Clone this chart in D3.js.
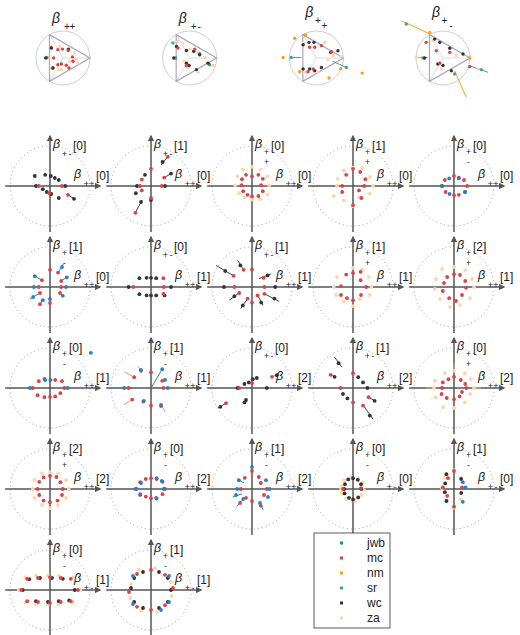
<!DOCTYPE html>
<html>
<head>
<meta charset="utf-8">
<script src="https://cdn.jsdelivr.net/npm/d3@7"></script>
<style>
  body { margin: 0; background: #fff; }
  text { font-family: 'Liberation Sans', Arial, sans-serif; fill: #222; }
</style>
</head>
<body>
<div id="chart"></div>
<script>
// series and colours
const seriesNames = ['jwb', 'mc', 'nm', 'sr', 'wc', 'za']
const seriesColors = ['#2b7fc0', '#d9434a', '#f5a020', '#3aab84', '#333333', '#fdd6ab']
const drawOrder = ['za', 'nm', 'sr', 'wc', 'mc', 'jwb']

// axis labels of the small panels ('/' means the subscript is stacked)
const vSubs = ['+-', '+-', '+/+', '+/+', '+/-',
  '+/-', '+-', '+-', '+/+', '+/+',
  '+/-', '+/-', '+-', '+-', '+/+',
  '+/+', '+/-', '+/-', '+/-', '+/-',
  '+/-', '+/-']
const vIdx = [0, 1, 0, 1, 0, 1, 0, 1, 1, 2, 0, 1, 0, 1, 0, 2, 0, 1, 0, 1, 0, 1]
const hSubs = ['++', '++', '++', '++', '++', '++', '++', '++', '++', '++',
  '++', '++', '++', '++', '++', '++', '++', '++', '+-', '+-', '+-', '+-']
const hIdx = [0, 0, 0, 0, 0, 0, 1, 1, 1, 1, 1, 1, 2, 2, 2, 2, 2, 2, 0, 0, 1, 1]

// titles of the triangle plots
const triSubs = ['++', '+-', '+/+', '+/-']

// points of the triangle plots
const tri1 = {
  za: [[-0.41, 0.37], [-0.12, 0.43], [0.22, 0.31], [0.43, 0.19], [0.49, -0.04], [0.56, -0.19], [-0.37, -0.33], [-0.15, -0.43], [-0.06, -0.43], [-0.56, 0], [0.25, -0.12]],
  nm: [[-0.45, 0.4], [-0.4, -0.38]],
  sr: [[-0.6, 0.02]],
  wc: [[-0.64, 0], [-0.43, 0.37], [-0.37, -0.37], [0.2, 0.33]],
  mc: [[-0.19, 0.31], [-0.02, 0.33], [0.19, 0.28], [0.35, 0.04], [0.37, -0.12], [-0.19, -0.25], [-0.06, -0.22], [0.12, -0.27], [0.22, -0.37], [-0.35, 0]]
}
const tri2 = {
  za: [[-0.43, 0.62], [-0.25, 0.56], [0, 0.33], [0.31, 0.19], [0.86, -0.28], [-0.19, -0.12], [-0.06, -0.37], [0.31, -0.53], [0.55, 0.02]],
  sr: [[-0.62, 0.56], [0.74, -0.25], [0.37, 0.16], [-0.52, 0]],
  wc: [[-0.49, 0.43], [-0.12, 0.28], [0.15, 0.25], [0.37, 0.12], [0.68, -0.19], [-0.12, -0.19], [-0.02, -0.28], [0.25, -0.43], [-0.59, 0]],
  mc: [[-0.43, 0.37], [0.19, 0.33], [-0.12, -0.28]]
}
const tri3 = {
  za: [[-0.47, 0.56], [0.31, 0.58], [0.43, -0.07], [0.62, 0.09], [-0.43, -0.53], [0.06, -0.53], [0.93, 0.06]],
  nm: [[-1.23, 0.02], [-0.8, 0.73], [-0.62, -0.51], [0.47, -0.74], [1.7, -0.56], [-0.4, 0.85], [0.9, -0.4]],
  sr: [[-0.93, 0.02], [1.11, -0.35]],
  wc: [[-0.49, 0.49], [-0.27, 0.58], [-0.09, 0.58], [0.53, 0.21], [0.8, 0.27], [-0.49, -0.41], [-0.25, -0.41], [-0.06, -0.47], [0.19, -0.35]],
  mc: [[-0.25, 0.4], [-0.06, 0.4], [0.19, 0.46], [0.56, 0.23], [-0.12, -0.41], [-0.31, -0.51]],
  seg: [['sr', -0.93, 0.02, -0.55, 0.02], ['sr', 0.6, -0.12, 1.11, -0.35]]
}
const tri4 = {
  za: [[-0.37, 0.64], [0.49, 0.09], [-0.06, -0.41], [1.3, -0.41], [-0.99, 0.02]],
  nm: [[-0.49, 0.95], [0.99, 0]],
  sr: [[-1.36, 1.26], [1.42, -0.43], [0.43, -0.59], [-0.74, 0]],
  wc: [[-0.31, 0.7], [-0.12, 0.58], [0.25, 0.36], [0.74, 0.15], [0.31, -0.47], [-0.19, -0.22], [0, -0.28], [-0.68, 0]],
  mc: [[-0.62, 0.58], [-0.25, 0.27], [0.25, 0.21], [-0.12, -0.19], [0.99, -0.32]],
  seg: [['nm', -1.54, 1.38, -0.49, 0.89], ['nm', 0.43, -0.47, 0.86, -1.46], ['sr', 0.96, -0.28, 1.67, -0.53], ['nm', -0.99, 0.02, -0.56, 0.02]]
}

// points of the small panels, row by row
const r1c0 = {
  wc: [[-0.38, 0.25], [-0.12, 0.28], [0.02, 0.25], [0.12, 0.2], [0.22, 0.15], [-0.35, 0], [0.38, 0], [-0.18, -0.08], [-0.08, -0.15], [0.03, -0.2], [0.22, -0.3], [0.6, -0.32]],
  mc: [[-0.28, 0], [0.3, 0], [-0.02, -0.18], [0.45, -0.22]],
  seg: [['wc', 0.45, -0.22, 0.62, -0.33]]
}
const r1c1 = {
  wc: [[-0.15, 0.28], [0.29, 0.6], [0.5, 0.31], [-0.35, 0], [0.35, 0], [-0.38, -0.18], [0, -0.35], [-0.25, -0.4]],
  mc: [[0, 0.43], [-0.23, 0.16], [0.33, 0.21], [0.42, 0.73], [-0.28, 0], [0.27, 0], [-0.23, -0.11], [0, -0.3], [-0.39, -0.67]],
  seg: [['wc', 0.25, 0.52, 0.44, 0.76], ['wc', 0.33, 0.21, 0.52, 0.32], ['wc', -0.22, -0.35, -0.4, -0.68]]
}
const r1c2 = {
  za: [[-0.23, 0.41], [0, 0.48], [0.21, 0.41], [-0.36, 0.24], [0.39, 0.24], [-0.42, 0.02], [0.43, 0.02], [-0.32, -0.18], [0.39, -0.21], [-0.19, -0.28], [0.2, -0.33], [0, -0.34]],
  mc: [[-0.15, 0.28], [0.16, 0.28], [-0.25, 0.17], [0.27, 0.18], [-0.26, 0.02], [0, 0.24], [0.27, -0.13], [-0.22, -0.13], [-0.11, -0.22], [0, -0.26], [0.16, -0.25], [0.23, 0.02]]
}
const r1c3 = {
  za: [[0, 0.46], [0.23, 0.45], [-0.23, 0.39], [-0.38, 0.18], [0.42, 0.22], [-0.4, 0], [0.5, 0], [-0.48, -0.25], [0.42, -0.19], [-0.23, -0.36], [0.15, -0.28], [0, -0.5]],
  mc: [[0, 0.43], [0.18, 0.35], [-0.17, 0.28], [0.31, 0.17], [-0.27, 0], [0.28, 0], [-0.27, -0.15], [0.15, -0.11], [0.21, -0.3], [0, -0.48]]
}
const r1c4 = {
  mc: [[-0.23, 0.15], [0, 0.25], [0.12, 0.21], [0.25, 0.15], [0.33, 0], [0.27, -0.15], [0.12, -0.22], [0, -0.23], [-0.21, -0.15], [-0.29, 0]],
  jwb: [[-0.12, 0.19], [0.12, 0.19], [-0.31, 0], [0.28, -0.15], [-0.11, -0.2]]
}
const r2c0 = {
  mc: [[0, 0.43], [0.2, 0.36], [-0.2, 0.17], [0.28, 0.15], [-0.28, 0], [0.28, 0], [-0.25, -0.15], [0.25, -0.15], [-0.25, -0.43], [0, -0.4]],
  jwb: [[0.3, 0.5], [-0.38, 0.27], [0.42, 0.24], [-0.4, 0], [0.4, 0], [-0.42, -0.25], [0.32, -0.22], [-0.18, -0.33], [0, -0.3]],
  seg: [['jwb', 0.2, 0.36, 0.34, 0.58], ['jwb', -0.2, 0.17, -0.42, 0.29], ['jwb', 0.28, 0.15, 0.44, 0.26], ['jwb', -0.25, -0.15, -0.5, -0.3], ['jwb', 0.25, -0.15, 0.34, -0.24], ['jwb', -0.25, -0.43, -0.16, -0.3]]
}
const r2c1 = {
  wc: [[-0.29, 0.22], [-0.11, 0.23], [0, 0.23], [0.13, 0.22], [-0.56, 0], [0.5, 0], [-0.29, -0.18], [-0.11, -0.21], [0, -0.21], [0.13, -0.21], [0.34, -0.21]],
  mc: [[0.31, 0.22], [-0.44, 0], [0.32, 0], [0.31, -0.17]]
}
const r2c2 = {
  mc: [[-0.46, 0.28], [-0.21, 0.43], [0, 0.44], [0.29, 0.23], [0.31, 0], [-0.44, 0], [-0.32, -0.15], [-0.11, -0.29], [0, -0.39], [0.31, -0.17], [0.14, -0.21]],
  wc: [[-0.67, 0.4], [-0.29, 0.54], [0.39, 0.29], [0.58, 0], [-0.7, 0], [-0.44, -0.23], [-0.23, -0.46], [0.56, -0.29], [0.23, -0.39]],
  seg: [['wc', -0.46, 0.28, -0.9, 0.54], ['wc', -0.21, 0.43, -0.36, 0.67], ['wc', 0.18, 0.21, 0.48, 0.33], ['wc', -0.32, -0.15, -0.57, -0.33], ['wc', -0.11, -0.29, -0.28, -0.54], ['wc', 0.31, -0.17, 0.68, -0.36], ['wc', 0.14, -0.21, 0.28, -0.46]]
}
const r2c3 = {
  za: [[0, 0.48], [0.23, 0.44], [-0.4, 0.25], [0.39, 0.25], [-0.48, 0], [0.46, 0], [-0.42, -0.2], [0.42, -0.2], [-0.23, -0.36], [0.17, -0.3], [0, -0.48]],
  mc: [[0, 0.35], [0.19, 0.38], [-0.17, 0.31], [0.19, 0.17], [-0.3, 0.02], [0.33, 0], [-0.3, -0.2], [0.2, -0.2], [0, -0.33], [-0.15, -0.28]]
}
const r2c4 = {
  za: [[0, 0.5], [0.28, 0.42], [-0.3, 0.45], [0.45, 0.2], [-0.45, 0.2], [0.5, 0], [-0.48, -0.05], [0.4, -0.28], [-0.35, -0.3], [0.15, -0.45], [-0.1, -0.5]],
  mc: [[0, 0.32], [0.15, 0.3], [-0.17, 0.25], [0.28, 0.15], [-0.25, 0.1], [0.3, -0.02], [-0.28, -0.1], [0.2, -0.2], [-0.12, -0.28], [0.05, -0.35]]
}
const r3c0 = {
  mc: [[-0.14, 0.23], [-0.28, 0.17], [0.13, 0.2], [0.3, 0.17], [-0.43, 0], [0.36, 0], [-0.31, -0.18], [-0.14, -0.23], [0, -0.22], [0.13, -0.21], [0.26, -0.13]],
  jwb: [[-0.12, 0.2], [0.01, 0.2], [-0.5, 0], [0.44, 0], [1.02, 0.88]]
}
const r3c1 = {
  mc: [[0, 0.39], [-0.25, 0.43], [-0.42, 0.27], [-0.56, 0], [-0.47, -0.29], [-0.19, -0.34], [0, -0.44], [0.25, -0.42], [0.31, 0], [0.28, 0.18]],
  jwb: [[-0.67, 0], [0.42, 0], [0.35, 0.2], [-0.18, -0.32], [0.25, -0.45], [-0.25, 0.45], [0.28, 0.47]],
  seg: [['jwb', 0, 0, 0.28, 0.47], ['mc', -0.42, 0.27, -0.65, 0.4], ['mc', -0.56, 0, -0.72, 0], ['mc', -0.47, -0.29, -0.68, -0.42], ['mc', 0.25, -0.42, 0.36, -0.6], ['mc', -0.25, 0.43, -0.33, 0.55], ['mc', 0, -0.44, 0, -0.6]]
}
const r3c2 = {
  wc: [[0.12, 0.25], [0.02, 0.22], [-0.08, 0.14], [-0.19, 0.1], [-0.36, 0], [0.37, 0], [-0.15, -0.3], [-0.19, -0.36], [-0.79, -0.47], [0.62, 0.32]],
  mc: [[-0.32, 0], [-0.65, -0.38], [0.5, 0.28], [0, 0.12]],
  seg: [['wc', -0.62, -0.36, -0.85, -0.5], ['mc', 0.48, 0.27, 0.68, 0.35]]
}
const r3c3 = {
  wc: [[-0.36, 0.62], [-0.46, 0.28], [0.13, 0.27], [0.25, 0.14], [0.36, 0], [-0.25, -0.15], [-0.14, -0.26], [0.42, -0.69], [0.54, -0.32]],
  mc: [[-0.56, 0.33], [0, 0.37], [-0.31, 0], [0, -0.36], [0.25, -0.44], [0.39, -0.23]],
  seg: [['wc', -0.46, 0.77, -0.28, 0.52], ['wc', -0.56, 0.33, -0.46, 0.28], ['wc', 0.25, -0.42, 0.5, -0.78], ['wc', 0.39, -0.23, 0.58, -0.34]]
}
const r3c4 = {
  za: [[0, 0.43], [0.27, 0.37], [-0.23, 0.37], [-0.48, 0.18], [0.42, 0.22], [-0.5, 0], [0.5, 0], [-0.46, -0.23], [-0.27, -0.48], [0.27, -0.36], [0, -0.5], [0.4, -0.15]],
  mc: [[0, 0.28], [0.17, 0.2], [-0.14, 0.22], [-0.28, 0.14], [0.28, 0.1], [-0.31, -0.15], [-0.18, -0.25], [0, -0.28], [0.14, -0.21], [0.31, 0], [-0.3, 0], [0.2, -0.1]],
  seg: [['za', 0, 0.45, 0, 0.62], ['za', -0.5, 0, -0.7, 0], ['za', 0.5, 0, 0.68, 0], ['za', -0.27, -0.48, -0.36, -0.64], ['za', 0.27, 0.37, 0.36, 0.5], ['za', -0.46, -0.23, -0.6, -0.3]]
}
const r4c0 = {
  za: [[0, 0.42], [-0.2, 0.39], [0.2, 0.39], [-0.39, 0.22], [0.4, 0.22], [-0.43, 0], [0.47, 0], [-0.39, -0.22], [0.4, -0.22], [-0.2, -0.4], [0.2, -0.4], [0, -0.48]],
  mc: [[0, 0.33], [-0.16, 0.29], [-0.27, 0.18], [0.16, 0.3], [0.26, 0.17], [-0.31, 0], [0.32, 0], [-0.27, -0.15], [-0.16, -0.29], [0, -0.33], [0.19, -0.29], [0.3, -0.15]]
}
const r4c1 = {
  mc: [[-0.27, 0.17], [-0.13, 0.25], [0, 0.27], [0.14, 0.25], [0.29, 0.18], [-0.36, 0], [0.35, 0], [-0.27, -0.13], [-0.13, -0.19], [0, -0.23], [0.13, -0.22], [0.29, -0.13]],
  jwb: [[-0.25, 0.15], [0.14, 0.27], [-0.39, 0], [0.32, 0], [-0.27, -0.15], [0.14, -0.24], [0.27, 0.2]]
}
const r4c2 = {
  mc: [[0, 0.45], [-0.18, 0.28], [0.17, 0.3], [-0.28, 0], [0.37, 0], [-0.15, -0.22], [0.3, -0.15], [0.22, 0.15], [-0.3, -0.35], [0.22, -0.42], [0, -0.3]],
  jwb: [[0, 0.55], [-0.33, 0.22], [0.35, 0.22], [-0.37, 0], [0.44, 0], [-0.4, -0.15], [0.2, -0.35], [-0.22, -0.25], [0.4, -0.2]],
  seg: [['jwb', -0.2, 0.15, -0.36, 0.24], ['jwb', -0.25, -0.12, -0.48, -0.2], ['jwb', 0.2, -0.35, 0.28, -0.52], ['jwb', -0.25, -0.28, -0.38, -0.44]]
}
const r4c3 = {
  za: [[-0.22, 0.22], [-0.05, 0.3], [0.13, 0.27], [0.25, 0.16], [-0.28, 0.08], [0.27, -0.02], [-0.28, -0.11], [0.21, -0.15], [-0.17, -0.25], [0.05, -0.3], [-0.3, 0]],
  wc: [[0, 0.27], [-0.12, 0.24], [-0.2, 0.12], [-0.22, 0], [-0.21, -0.11], [-0.1, -0.22], [0, -0.26], [0.13, -0.21], [0.21, 0], [0.2, 0.12], [0.12, 0.23]],
  mc: [[-0.25, 0], [0.2, 0.02]]
}
const r4c4 = {
  za: [[0, 0.47], [-0.3, 0.02], [0.16, 0.28], [-0.17, -0.29], [0.17, -0.26], [0, -0.47], [-0.22, 0.3]],
  wc: [[-0.19, 0.37], [-0.22, 0.14], [-0.23, -0.08], [-0.19, -0.3], [0.18, 0.25], [0.18, -0.1]],
  mc: [[0, 0.45], [-0.15, 0.27], [-0.28, 0.04], [-0.17, -0.17], [0.2, 0.04], [0, -0.44]],
  jwb: [[0.22, 0.17], [0.29, 0.04], [0.22, -0.32]]
}
const r5c0 = {
  za: [[-0.78, 0], [-0.62, 0.32], [-0.35, 0.36], [-0.05, 0.36], [0.22, 0.36], [0.58, 0.32], [0.76, 0], [0.58, -0.32], [0.22, -0.36], [-0.05, -0.36], [-0.35, -0.36], [-0.62, -0.32]],
  wc: [[-0.68, 0], [-0.52, 0.27], [-0.25, 0.3], [0.05, 0.3], [0.32, 0.28], [0.62, 0], [0.48, -0.26], [0.22, -0.28], [-0.05, -0.3], [-0.35, -0.28]],
  mc: [[-0.72, 0], [-0.57, 0.28], [-0.3, 0.3], [0, 0.32], [0.27, 0.3], [0.52, 0.28], [0.7, 0], [0.52, -0.28], [0.27, -0.3], [0, -0.32], [-0.3, -0.3], [-0.57, -0.28]]
}
const r5c1 = {
  za: [[-0.5, 0.15], [-0.3, 0.5], [0.1, 0.55], [0.5, 0.2], [0.52, -0.15], [0.15, -0.55], [-0.25, -0.52], [-0.52, -0.2]],
  wc: [[-0.5, 0.05], [-0.42, 0.3], [-0.2, 0.45], [0.2, 0.45], [0.42, 0.3], [0.5, 0], [0.42, -0.3], [0.2, -0.45], [-0.2, -0.45], [-0.42, -0.3]],
  mc: [[-0.35, 0.4], [0, 0.5], [0.35, 0.38], [0.55, 0.05], [0.35, -0.38], [0, -0.5], [-0.35, -0.42], [-0.55, -0.05]],
  jwb: [[-0.45, 0.35], [0.45, 0.35], [0.45, -0.3], [-0.45, -0.35], [0.25, -0.5]]
}

const panels = [r1c0, r1c1, r1c2, r1c3, r1c4, r2c0, r2c1, r2c2, r2c3, r2c4,
  r3c0, r3c1, r3c2, r3c3, r3c4, r4c0, r4c1, r4c2, r4c3, r4c4, r5c0, r5c1]
const triangles = [tri1, tri2, tri3, tri4]

const color = d3.scaleOrdinal().domain(seriesNames).range(seriesColors)

const svg = d3.select('#chart').append('svg')
  .attr('width', 520)
  .attr('height', 635)

svg.append('defs').append('marker')
  .attr('id', 'arrow')
  .attr('viewBox', '0 0 10 10')
  .attr('refX', 8)
  .attr('refY', 5)
  .attr('markerWidth', 4.2)
  .attr('markerHeight', 4.2)
  .attr('orient', 'auto')
  .append('path')
  .attr('d', 'M0,0 L10,5 L0,10 z')
  .attr('fill', '#555')

function drawPoints (g, d, x, y, r) {
  drawOrder.forEach(s => {
    if (!d[s]) return
    g.selectAll(null)
      .data(d[s])
      .enter()
      .append('circle')
      .attr('cx', p => x(p[0]))
      .attr('cy', p => y(p[1]))
      .attr('r', r)
      .attr('fill', color(s))
  })
}

function drawSegs (g, d, x, y) {
  if (!d.seg) return
  g.selectAll(null)
    .data(d.seg)
    .enter()
    .append('line')
    .attr('x1', s => x(s[1]))
    .attr('y1', s => y(s[2]))
    .attr('x2', s => x(s[3]))
    .attr('y2', s => y(s[4]))
    .attr('stroke', s => s[0] === 'wc' ? '#444' : color(s[0]))
    .attr('stroke-opacity', s => s[0] === 'mc' || s[0] === 'za' ? 0.55 : 1)
    .attr('stroke-width', 1)
}

// subscript: side by side, or stacked as two lines
function drawSub (g, sub, x0, y0, size, dx, dy) {
  const stacked = sub.includes('/')
  const parts = stacked ? sub.split('/') : sub.split('')
  parts.forEach((c, i) => {
    g.append('text')
      .attr('x', stacked ? x0 + i * dx : x0 + i * 5.5)
      .attr('y', stacked ? y0 + i * dy : y0)
      .attr('text-anchor', 'middle')
      .attr('font-size', size)
      .text(c)
  })
}

// ---- triangle plots along the top ----
const triX = d3.scaleLinear().domain([0, 3]).range([63, 443])
const tx = d3.scaleLinear().domain([-1, 1]).range([-27, 27])
const ty = d3.scaleLinear().domain([-1, 1]).range([27, -27])
const corners = [[1, 0], [-0.5, 0.866], [-0.5, -0.866]]

triangles.forEach((d, i) => {
  const g = svg.append('g')
    .attr('transform', 'translate(' + triX(i) + ',58)')

  g.append('circle')
    .attr('r', tx(1))
    .attr('fill', 'none')
    .attr('stroke', '#cfcfcf')
    .attr('stroke-width', 1)

  g.selectAll(null)
    .data(corners)
    .enter()
    .append('line')
    .attr('x1', 0).attr('y1', 0)
    .attr('x2', c => tx(c[0]))
    .attr('y2', c => ty(c[1]))
    .attr('stroke', '#d2d2dc')
    .attr('stroke-width', 0.8)

  g.append('path')
    .attr('d', d3.line().x(c => tx(c[0])).y(c => ty(c[1]))(corners) + 'Z')
    .attr('fill', 'none')
    .attr('stroke', '#a7a7bd')
    .attr('stroke-width', 1.2)

  drawSegs(g, d, tx, ty)
  drawPoints(g, d, tx, ty, 1.7)

  const stacked = triSubs[i].includes('/')
  g.append('text')
    .attr('x', -11)
    .attr('y', stacked ? -41 : -35)
    .attr('font-size', 14)
    .attr('font-style', 'italic')
    .text('β')
  if (stacked) {
    drawSub(g, triSubs[i], 1.5, -34, 10, 6.5, 5)
  } else {
    drawSub(g, triSubs[i], 4, -28, 10)
  }
})

// ---- grid of small panels ----
const colX = d3.scaleLinear().domain([0, 4]).range([50, 454])
const rowY = d3.scaleLinear().domain([0, 4]).range([186, 590])
const px = d3.scaleLinear().domain([-1, 1]).range([-40, 40])
const py = d3.scaleLinear().domain([-1, 1]).range([40, -40])

panels.forEach((d, i) => {
  const g = svg.append('g')
    .attr('transform', 'translate(' + colX(i % 5) + ',' + rowY(Math.floor(i / 5)) + ')')

  g.append('circle')
    .attr('r', px(1))
    .attr('fill', 'none')
    .attr('stroke', '#9a9a9a')
    .attr('stroke-width', 1)
    .attr('stroke-dasharray', '1,3')

  g.append('line')
    .attr('x1', px(-1.12)).attr('y1', 0)
    .attr('x2', px(1.25)).attr('y2', 0)
    .attr('stroke', '#555')
    .attr('stroke-width', 1.5)
    .attr('marker-end', 'url(#arrow)')

  g.append('line')
    .attr('x1', 0).attr('y1', py(-1.15))
    .attr('x2', 0).attr('y2', py(1.25))
    .attr('stroke', '#555')
    .attr('stroke-width', 1.5)
    .attr('marker-end', 'url(#arrow)')

  drawSegs(g, d, px, py)
  drawPoints(g, d, px, py, 1.9)

  // vertical axis label
  const vStacked = vSubs[i].includes('/')
  g.append('text')
    .attr('x', 3).attr('y', -38)
    .attr('font-size', 12.5)
    .attr('font-style', 'italic')
    .text('β')
  if (vStacked) {
    drawSub(g, vSubs[i], 14.5, -31, 8.5, 0, 9.8)
  } else {
    drawSub(g, vSubs[i], 14.5, -29.5, 9)
  }
  g.append('text')
    .attr('x', vStacked ? 19 : 23).attr('y', -36)
    .attr('font-size', 12)
    .text('[' + vIdx[i] + ']')

  // horizontal axis label
  g.append('text')
    .attr('x', 24).attr('y', -8)
    .attr('font-size', 12.5)
    .attr('font-style', 'italic')
    .text('β')
  drawSub(g, hSubs[i], 36.5, 0.5, 9)
  g.append('text')
    .attr('x', 46).attr('y', -6)
    .attr('font-size', 12)
    .text('[' + hIdx[i] + ']')
})

// ---- legend ----
const legend = svg.append('g')
  .attr('transform', 'translate(314,533)')

legend.append('rect')
  .attr('width', 76)
  .attr('height', 95)
  .attr('fill', '#fff')
  .attr('stroke', '#333')
  .attr('stroke-width', 0.8)

const items = legend.selectAll(null)
  .data(seriesNames)
  .enter()
  .append('g')
  .attr('transform', (s, i) => 'translate(0,' + (10 + i * 15) + ')')

items.append('rect')
  .attr('x', 26).attr('y', -1.5)
  .attr('width', 3).attr('height', 3)
  .attr('fill', s => color(s))

items.append('text')
  .attr('x', 53).attr('y', 4)
  .attr('font-size', 12)
  .text(s => s)
</script>
</body>
</html>
